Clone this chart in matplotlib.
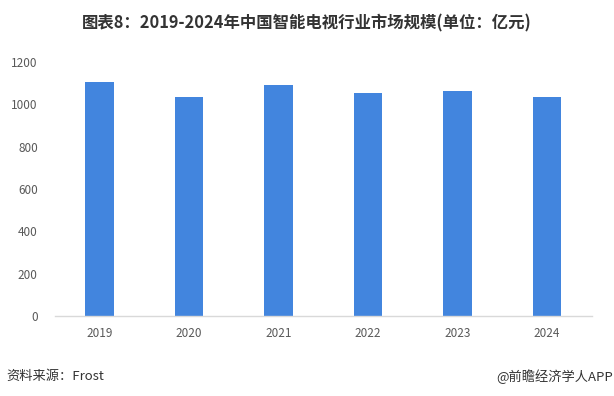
import matplotlib.pyplot as plt

plt.rcParams['font.family'] = ['Noto Sans CJK SC', 'DejaVu Sans']

# Data
years = ['2019', '2020', '2021', '2022', '2023', '2024']
market_size = [1107, 1036, 1094, 1055, 1064, 1036]
y_ticks = [0, 200, 400, 600, 800, 1000, 1200]

fig = plt.figure(figsize=(6.14, 3.96), dpi=100)
ax = fig.add_axes([0.0888, 0.202, 0.875, 0.641])

ax.bar(years, market_size, width=0.32, color='#4285de', zorder=2)

ax.set_ylim(0, 1200)
ax.set_xlim(-0.5, len(years) - 0.5)
ax.set_yticks(y_ticks)
ax.tick_params(axis='both', length=0, labelsize=8.5, colors='#595959')
ax.tick_params(axis='x', pad=8)
ax.tick_params(axis='y', pad=12)

for s in ['top', 'right', 'left']:
    ax.spines[s].set_visible(False)
ax.spines['bottom'].set_color('#d9d9d9')
ax.spines['bottom'].set_linewidth(1)

fig.text(0.5, 0.94, '图表8：2019-2024年中国智能电视行业市场规模(单位：亿元)',
         ha='center', va='center', fontsize=11.8, fontweight='bold', color='#333333')
fig.text(0.011, 0.05, '资料来源：Frost', ha='left', va='center',
         fontsize=9.5, color='#333333')
fig.text(0.999, 0.05, '@前瞻经济学人APP', ha='right', va='center',
         fontsize=9.5, color='#333333')

plt.savefig('out.png', dpi=100)
